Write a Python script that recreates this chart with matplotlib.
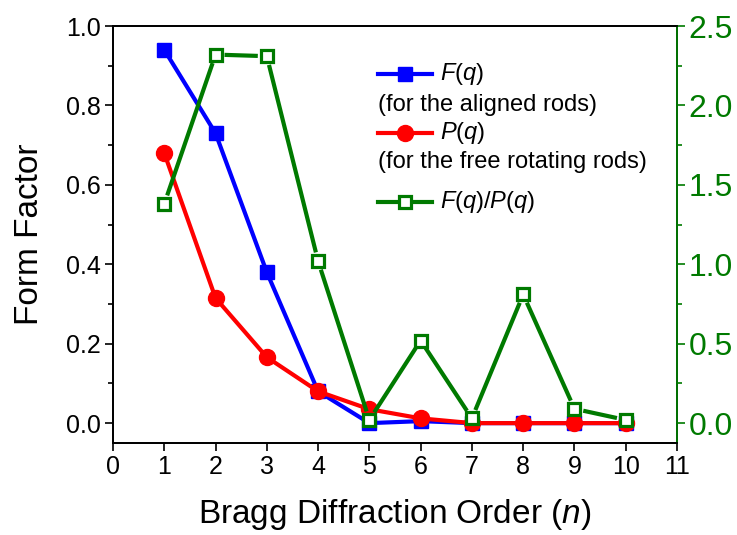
import matplotlib
matplotlib.use("Agg")
import matplotlib.pyplot as plt
import numpy as np
from matplotlib.lines import Line2D
from matplotlib.ticker import MultipleLocator, FormatStrFormatter

plt.rcParams['font.family'] = ['Liberation Sans', 'DejaVu Sans']
plt.rcParams['mathtext.fontset'] = 'custom'
plt.rcParams['mathtext.rm'] = 'Liberation Sans'
plt.rcParams['mathtext.it'] = 'Liberation Sans:italic'

# data
order = [1, 2, 3, 4, 5, 6, 7, 8, 9, 10]
f_aligned = [0.94, 0.73, 0.38, 0.08, 0.0, 0.005, 0.0, 0.0, 0.0, 0.0]
p_free = [0.68, 0.315, 0.166, 0.08, 0.035, 0.012, 0.0, 0.0, 0.0, 0.0]
ratio = [1.38, 2.32, 2.31, 1.02, 0.02, 0.52, 0.03, 0.81, 0.09, 0.02]

green = '#007a00'
blue = '#0000ff'
red = '#ff0000'
lw = 3.0

fig = plt.figure(figsize=(7.37, 5.35), dpi=100)
ax = fig.add_axes([0.1533, 0.172, 0.7653, 0.7794])
ax2 = ax.twinx()

ax.plot(order, f_aligned, color=blue, lw=lw, marker='s', ms=10.5, zorder=2)
ax.plot(order, p_free, color=red, lw=lw, marker='o', ms=11.5, zorder=3)

ax.set_xlim(0, 11)
ax.set_ylim(-0.05, 1.0)
ax2.set_ylim(-0.125, 2.5)

# green line with small gaps around the markers (Origin style)
fig.canvas.draw()
gap = 9  # pixels
pts = ax2.transData.transform(np.column_stack([order, ratio]))
inv = ax2.transData.inverted()
for i in range(len(pts) - 1):
    a, b = pts[i], pts[i + 1]
    u = (b - a) / np.hypot(*(b - a))
    seg = inv.transform(np.vstack([a + u * gap, b - u * gap]))
    ax2.plot(seg[:, 0], seg[:, 1], color=green, lw=lw, solid_capstyle='butt')
ax2.plot(order, ratio, ls='none', marker='s', ms=8.5, mfc='white', mec=green, mew=2.3)

# axes styling
ax.xaxis.set_major_locator(MultipleLocator(1))
ax.yaxis.set_major_locator(MultipleLocator(0.2))
ax.yaxis.set_minor_locator(MultipleLocator(0.1))
ax2.yaxis.set_major_locator(MultipleLocator(0.5))
ax2.yaxis.set_minor_locator(MultipleLocator(0.25))
ax.yaxis.set_major_formatter(FormatStrFormatter('%.1f'))
ax2.yaxis.set_major_formatter(FormatStrFormatter('%.1f'))

for a in (ax, ax2):
    for s in a.spines.values():
        s.set_linewidth(1.3)
ax2.spines['right'].set_color(green)
ax.tick_params(axis='both', which='major', direction='out', length=5.5, width=1.2,
               labelsize=18, pad=3)
ax.tick_params(axis='y', which='minor', direction='out', length=3.5, width=1.2)
ax2.tick_params(axis='y', which='major', direction='out', length=5.5, width=1.2,
                labelsize=23, colors=green, pad=3)
ax2.tick_params(axis='y', which='minor', direction='out', length=3.5, width=1.2, colors=green)

ax.set_xlabel('Bragg Diffraction Order ($n$)', fontsize=24, labelpad=13)
ax.set_ylabel('Form Factor', fontsize=24, labelpad=15)

# legend, laid out by hand in axes fractions
hx = [0.470, 0.566]
tx = 0.580
rows = [0.885, 0.743, 0.578]
styles = [dict(color=blue, marker='s', ms=10.5),
          dict(color=red, marker='o', ms=11.5),
          dict(color=green, marker='s', ms=8.5, mfc='white', mec=green, mew=2.3)]
labels = ['$F$($q$)', '$P$($q$)', '$F$($q$)/$P$($q$)']
for y, st, lab in zip(rows, styles, labels):
    ax2.add_line(Line2D(hx, [y, y], lw=lw, transform=ax2.transAxes, markevery=[], **st))
    ax2.add_line(Line2D([np.mean(hx)], [y], ls='none', transform=ax2.transAxes, **st))
    ax2.text(tx, y, lab, transform=ax2.transAxes, fontsize=17, va='center', ha='left')
ax2.text(hx[0], 0.811, '(for the aligned rods)', transform=ax2.transAxes,
         fontsize=17, va='center', ha='left')
ax2.text(hx[0], 0.674, '(for the free rotating rods)', transform=ax2.transAxes,
         fontsize=17, va='center', ha='left')

fig.savefig('out.png', dpi=100)
